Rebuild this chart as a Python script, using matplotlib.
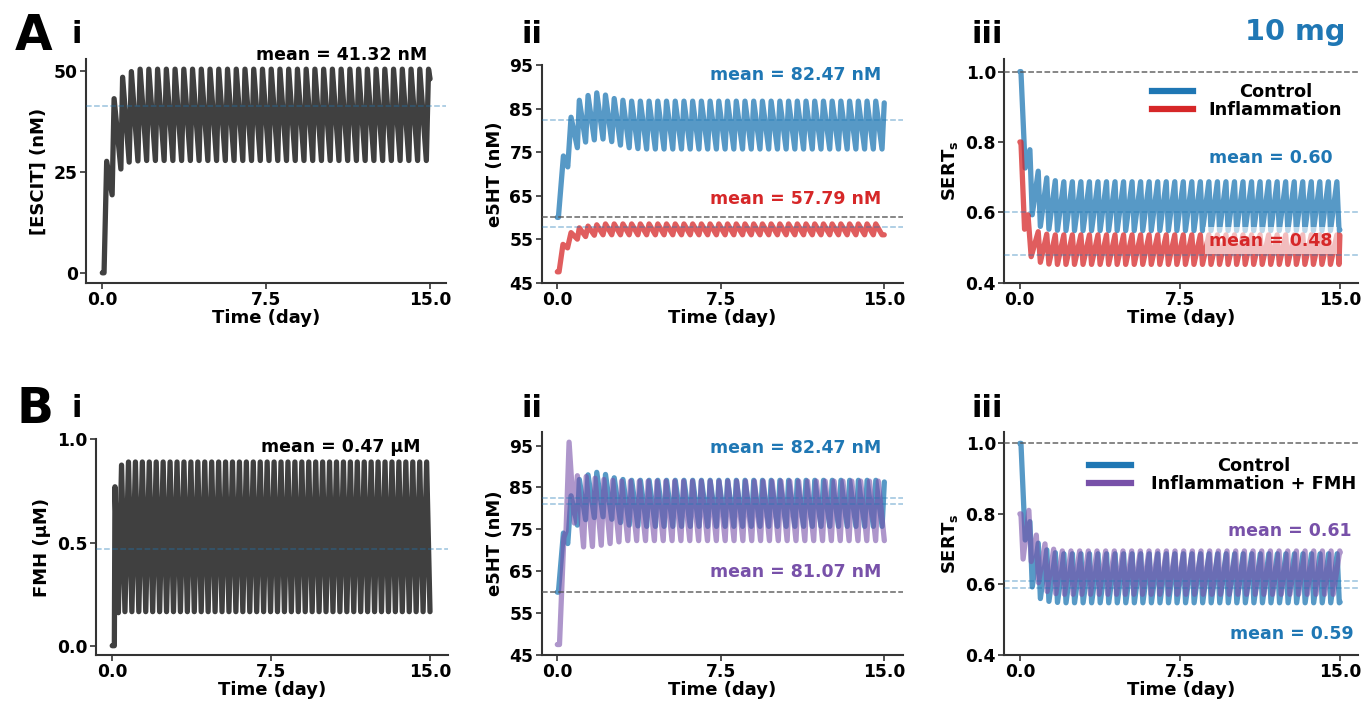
import numpy as np
import matplotlib
matplotlib.use("Agg")
import matplotlib.pyplot as plt
from matplotlib.lines import Line2D

plt.rcParams["font.family"] = ["DejaVu Sans"]
plt.rcParams["font.weight"] = "bold"
plt.rcParams["axes.labelweight"] = "bold"
plt.rcParams["mathtext.fontset"] = "dejavusans"

BLUE = "#1f77b4"
RED = "#d62728"
PURPLE = "#7851a9"
DARK = "black"

T_END = 15.0
X_TICKS = [0.0, 7.5, 15.0]

# ---------------- data ----------------
# Each trace: early transient points, then one peak and one trough per dosing cycle.

# A-i  [ESCIT] (nM)
ESCIT_PRE_T = [0.0, 0.08, 0.20, 0.45, 0.54, 0.85]
ESCIT_PRE_V = [0.0, 0.0, 27.6, 19.3, 43.1, 25.7]
ESCIT_T0, ESCIT_PERIOD = 0.93, 0.40
ESCIT_PEAKS = [48.4, 49.8, 50.4, 50.4, 50.4, 50.4, 50.4, 50.4, 50.4, 50.4,
               50.4, 50.4, 50.4, 50.4, 50.4, 50.4, 50.4, 50.4, 50.4, 50.4,
               50.4, 50.4, 50.4, 50.4, 50.4, 50.4, 50.4, 50.4, 50.4, 50.4,
               50.4, 50.4, 50.4, 50.4, 50.4, 50.4, 50.4, 50.4]
ESCIT_TROUGHS = [27.4, 27.7, 27.8, 27.8, 27.8, 27.8, 27.8, 27.8, 27.8, 27.8,
                 27.8, 27.8, 27.8, 27.8, 27.8, 27.8, 27.8, 27.8, 27.8, 27.8,
                 27.8, 27.8, 27.8, 27.8, 27.8, 27.8, 27.8, 27.8, 27.8, 27.8,
                 27.8, 27.8, 27.8, 27.8, 27.8, 27.8, 27.8, 27.8]
ESCIT_LAST = 48.0
ESCIT_MEAN = 41.32

# e5HT control (A-ii, B-ii blue)
E5HT_CTRL_PRE_T = [0.0, 0.05, 0.28, 0.48, 0.63, 0.92]
E5HT_CTRL_PRE_V = [60.0, 60.0, 74.1, 71.6, 83.0, 76.0]
E5HT_CTRL_T0, E5HT_CTRL_PERIOD = 1.01, 0.40
E5HT_CTRL_PEAKS = [86.9, 88.0, 88.6, 88.1, 87.3, 86.9, 86.7, 86.7, 86.7, 86.7,
                   86.7, 86.7, 86.7, 86.7, 86.7, 86.7, 86.7, 86.7, 86.7, 86.7,
                   86.7, 86.7, 86.7, 86.7, 86.7, 86.7, 86.7, 86.7, 86.7, 86.7,
                   86.7, 86.7, 86.7, 86.7, 86.7, 86.7, 86.7, 86.7]
E5HT_CTRL_TROUGHS = [77.3, 77.8, 78.0, 77.4, 76.6, 76.0, 75.8, 75.7, 75.7, 75.7,
                     75.7, 75.7, 75.7, 75.7, 75.7, 75.7, 75.7, 75.7, 75.7, 75.7,
                     75.7, 75.7, 75.7, 75.7, 75.7, 75.7, 75.7, 75.7, 75.7, 75.7,
                     75.7, 75.7, 75.7, 75.7, 75.7, 75.7, 75.7, 75.7]
E5HT_CTRL_LAST = 86.3
E5HT_CTRL_MEAN = 82.47

# e5HT inflammation (A-ii red)
E5HT_INFL_PRE_T = [0.0, 0.08, 0.26, 0.47, 0.63, 0.92]
E5HT_INFL_PRE_V = [47.5, 47.5, 53.8, 53.0, 56.5, 55.0]
E5HT_INFL_T0, E5HT_INFL_PERIOD = 1.01, 0.40
E5HT_INFL_PEAKS = [57.6, 58.0, 58.3, 58.5, 58.5, 58.5, 58.5, 58.5, 58.5, 58.5,
                   58.5, 58.5, 58.5, 58.5, 58.5, 58.5, 58.5, 58.5, 58.5, 58.5,
                   58.5, 58.5, 58.5, 58.5, 58.5, 58.5, 58.5, 58.5, 58.5, 58.5,
                   58.5, 58.5, 58.5, 58.5, 58.5, 58.5, 58.5, 58.5]
E5HT_INFL_TROUGHS = [55.6, 55.9, 56.0, 56.0, 56.0, 56.0, 56.0, 56.0, 56.0, 56.0,
                     56.0, 56.0, 56.0, 56.0, 56.0, 56.0, 56.0, 56.0, 56.0, 56.0,
                     56.0, 56.0, 56.0, 56.0, 56.0, 56.0, 56.0, 56.0, 56.0, 56.0,
                     56.0, 56.0, 56.0, 56.0, 56.0, 56.0, 56.0, 56.0]
E5HT_INFL_LAST = 56.0
E5HT_INFL_MEAN = 57.79
E5HT_BASELINE = 60.0

# SERTs control (A-iii, B-iii blue)
SERT_CTRL_PRE_T = [0.0, 0.05, 0.25, 0.47, 0.58]
SERT_CTRL_PRE_V = [1.0, 1.0, 0.726, 0.778, 0.593]
SERT_CTRL_T0, SERT_CTRL_PERIOD = 0.86, 0.40
SERT_CTRL_PEAKS = [0.717, 0.698, 0.690, 0.687, 0.687, 0.687, 0.687, 0.687, 0.687, 0.687,
                   0.687, 0.687, 0.687, 0.687, 0.687, 0.687, 0.687, 0.687, 0.687, 0.687,
                   0.687, 0.687, 0.687, 0.687, 0.687, 0.687, 0.687, 0.687, 0.687, 0.687,
                   0.687, 0.687, 0.687, 0.687, 0.687, 0.687, 0.687, 0.687]
SERT_CTRL_TROUGHS = [0.560, 0.552, 0.549, 0.548, 0.548, 0.548, 0.548, 0.548, 0.548, 0.548,
                     0.548, 0.548, 0.548, 0.548, 0.548, 0.548, 0.548, 0.548, 0.548, 0.548,
                     0.548, 0.548, 0.548, 0.548, 0.548, 0.548, 0.548, 0.548, 0.548, 0.548,
                     0.548, 0.548, 0.548, 0.548, 0.548, 0.548, 0.548, 0.548]
SERT_CTRL_LAST = 0.55
SERT_CTRL_MEAN_A = 0.60
SERT_CTRL_MEAN_B = 0.59
SERT_BASELINE = 1.0

# SERTs inflammation (A-iii red)
SERT_INFL_PRE_T = [0.0, 0.05, 0.22, 0.38, 0.53]
SERT_INFL_PRE_V = [0.80, 0.80, 0.552, 0.593, 0.474]
SERT_INFL_T0, SERT_INFL_PERIOD = 0.86, 0.40
SERT_INFL_PEAKS = [0.545, 0.538, 0.536, 0.536, 0.536, 0.536, 0.536, 0.536, 0.536, 0.536,
                   0.536, 0.536, 0.536, 0.536, 0.536, 0.536, 0.536, 0.536, 0.536, 0.536,
                   0.536, 0.536, 0.536, 0.536, 0.536, 0.536, 0.536, 0.536, 0.536, 0.536,
                   0.536, 0.536, 0.536, 0.536, 0.536, 0.536, 0.536, 0.536]
SERT_INFL_TROUGHS = [0.458, 0.453, 0.452, 0.452, 0.452, 0.452, 0.452, 0.452, 0.452, 0.452,
                     0.452, 0.452, 0.452, 0.452, 0.452, 0.452, 0.452, 0.452, 0.452, 0.452,
                     0.452, 0.452, 0.452, 0.452, 0.452, 0.452, 0.452, 0.452, 0.452, 0.452,
                     0.452, 0.452, 0.452, 0.452, 0.452, 0.452, 0.452, 0.452]
SERT_INFL_LAST = 0.535
SERT_INFL_MEAN = 0.48

# B-i  FMH (uM)
FMH_PRE_T = [0.0, 0.10, 0.13, 0.29]
FMH_PRE_V = [0.0, 0.0, 0.77, 0.16]
FMH_T0, FMH_PERIOD = 0.44, 0.3273
FMH_PEAKS = [0.875, 0.89, 0.89, 0.89, 0.89, 0.89, 0.89, 0.89, 0.89, 0.89,
             0.89, 0.89, 0.89, 0.89, 0.89, 0.89, 0.89, 0.89, 0.89, 0.89,
             0.89, 0.89, 0.89, 0.89, 0.89, 0.89, 0.89, 0.89, 0.89, 0.89,
             0.89, 0.89, 0.89, 0.89, 0.89, 0.89, 0.89, 0.89, 0.89, 0.89,
             0.89, 0.89, 0.89, 0.89, 0.89, 0.89, 0.89]
FMH_TROUGHS = [0.165, 0.165, 0.165, 0.165, 0.165, 0.165, 0.165, 0.165, 0.165, 0.165,
               0.165, 0.165, 0.165, 0.165, 0.165, 0.165, 0.165, 0.165, 0.165, 0.165,
               0.165, 0.165, 0.165, 0.165, 0.165, 0.165, 0.165, 0.165, 0.165, 0.165,
               0.165, 0.165, 0.165, 0.165, 0.165, 0.165, 0.165, 0.165, 0.165, 0.165,
               0.165, 0.165, 0.165, 0.165, 0.165, 0.165, 0.165]
FMH_LAST = 0.165
FMH_MEAN = 0.47

# e5HT inflammation + FMH (B-ii purple)
E5HT_FMH_PRE_T = [0.0, 0.10, 0.30, 0.40, 0.54, 0.78]
E5HT_FMH_PRE_V = [47.5, 47.5, 73.0, 74.5, 95.8, 76.5]
E5HT_FMH_T0, E5HT_FMH_PERIOD = 0.92, 0.406
E5HT_FMH_PEAKS = [87.8, 87.6, 87.2, 86.9, 86.7, 86.5, 86.5, 86.5, 86.5, 86.5,
                  86.5, 86.5, 86.5, 86.5, 86.5, 86.5, 86.5, 86.5, 86.5, 86.5,
                  86.5, 86.5, 86.5, 86.5, 86.5, 86.5, 86.5, 86.5, 86.5, 86.5,
                  86.5, 86.5, 86.5, 86.5, 86.5, 86.5, 86.5, 86.5]
E5HT_FMH_TROUGHS = [70.8, 70.9, 71.2, 71.6, 72.0, 72.3, 72.3, 72.3, 72.3, 72.3,
                    72.3, 72.3, 72.3, 72.3, 72.3, 72.3, 72.3, 72.3, 72.3, 72.3,
                    72.3, 72.3, 72.3, 72.3, 72.3, 72.3, 72.3, 72.3, 72.3, 72.3,
                    72.3, 72.3, 72.3, 72.3, 72.3, 72.3, 72.3, 72.3]
E5HT_FMH_LAST = 72.3
E5HT_FMH_MEAN = 81.07

# SERTs inflammation + FMH (B-iii purple)
SERT_FMH_PRE_T = [0.0, 0.05, 0.15, 0.42, 0.53]
SERT_FMH_PRE_V = [0.80, 0.80, 0.672, 0.81, 0.665]
SERT_FMH_T0, SERT_FMH_PERIOD = 0.77, 0.406
SERT_FMH_PEAKS = [0.740, 0.715, 0.700, 0.695, 0.695, 0.695, 0.695, 0.695, 0.695, 0.695,
                  0.695, 0.695, 0.695, 0.695, 0.695, 0.695, 0.695, 0.695, 0.695, 0.695,
                  0.695, 0.695, 0.695, 0.695, 0.695, 0.695, 0.695, 0.695, 0.695, 0.695,
                  0.695, 0.695, 0.695, 0.695, 0.695, 0.695, 0.695, 0.695]
SERT_FMH_TROUGHS = [0.605, 0.580, 0.574, 0.572, 0.572, 0.572, 0.572, 0.572, 0.572, 0.572,
                    0.572, 0.572, 0.572, 0.572, 0.572, 0.572, 0.572, 0.572, 0.572, 0.572,
                    0.572, 0.572, 0.572, 0.572, 0.572, 0.572, 0.572, 0.572, 0.572, 0.572,
                    0.572, 0.572, 0.572, 0.572, 0.572, 0.572, 0.572, 0.572]
SERT_FMH_LAST = 0.69
SERT_FMH_MEAN = 0.61


def wave(pre_t, pre_v, t0, period, peaks, troughs, frac, last_v, t_end=T_END):
    """Polyline through the read extrema: early points, then peak/trough per cycle."""
    t = list(pre_t)
    v = list(pre_v)
    for k, (hi, lo) in enumerate(zip(peaks, troughs)):
        th = t0 + k * period
        t += [th, th + frac * period]
        v += [hi, lo]
    t = np.asarray(t)
    v = np.asarray(v)
    keep = t < t_end - 1e-6
    return np.r_[t[keep], t_end], np.r_[v[keep], last_v]


escit = wave(ESCIT_PRE_T, ESCIT_PRE_V, ESCIT_T0, ESCIT_PERIOD, ESCIT_PEAKS, ESCIT_TROUGHS, 0.75, ESCIT_LAST)
e5_ctrl = wave(E5HT_CTRL_PRE_T, E5HT_CTRL_PRE_V, E5HT_CTRL_T0, E5HT_CTRL_PERIOD, E5HT_CTRL_PEAKS, E5HT_CTRL_TROUGHS, 0.72, E5HT_CTRL_LAST)
e5_infl = wave(E5HT_INFL_PRE_T, E5HT_INFL_PRE_V, E5HT_INFL_T0, E5HT_INFL_PERIOD, E5HT_INFL_PEAKS, E5HT_INFL_TROUGHS, 0.72, E5HT_INFL_LAST)
sert_ctrl = wave(SERT_CTRL_PRE_T, SERT_CTRL_PRE_V, SERT_CTRL_T0, SERT_CTRL_PERIOD, SERT_CTRL_PEAKS, SERT_CTRL_TROUGHS, 0.25, SERT_CTRL_LAST)
sert_infl = wave(SERT_INFL_PRE_T, SERT_INFL_PRE_V, SERT_INFL_T0, SERT_INFL_PERIOD, SERT_INFL_PEAKS, SERT_INFL_TROUGHS, 0.25, SERT_INFL_LAST)
fmh = wave(FMH_PRE_T, FMH_PRE_V, FMH_T0, FMH_PERIOD, FMH_PEAKS, FMH_TROUGHS, 0.49, FMH_LAST)
e5_fmh = wave(E5HT_FMH_PRE_T, E5HT_FMH_PRE_V, E5HT_FMH_T0, E5HT_FMH_PERIOD, E5HT_FMH_PEAKS, E5HT_FMH_TROUGHS, 0.70, E5HT_FMH_LAST)
sert_fmh = wave(SERT_FMH_PRE_T, SERT_FMH_PRE_V, SERT_FMH_T0, SERT_FMH_PERIOD, SERT_FMH_PEAKS, SERT_FMH_TROUGHS, 0.25, SERT_FMH_LAST)

# ---------------- figure ----------------
W, H = 1367, 704
fig = plt.figure(figsize=(W / 100, H / 100), dpi=100)


def add_ax(x0, x1, ytop, ybot):
    return fig.add_axes([x0 / W, 1 - ybot / H, (x1 - x0) / W, (ybot - ytop) / H])


def style(ax, xlim, ylim, yticks, ylabel):
    for s in ("top", "right"):
        ax.spines[s].set_visible(False)
    for s in ("left", "bottom"):
        ax.spines[s].set_linewidth(1.5)
        ax.spines[s].set_color("#333333")
    ax.set_xlim(*xlim)
    if ylim is not None:
        ax.set_ylim(*ylim)
    ax.set_xticks(X_TICKS)
    ax.set_yticks(yticks)
    ax.tick_params(axis="both", labelsize=12.3, length=4, width=1.2, color="#333333", pad=2)
    for lab in ax.get_xticklabels() + ax.get_yticklabels():
        lab.set_fontweight("bold")
    ax.set_xlabel("Time (day)", fontsize=13, fontweight="bold", labelpad=0)
    ax.set_ylabel(ylabel, fontsize=13, fontweight="bold", labelpad=4)


def trace(ax, data, color, alpha):
    ax.plot(data[0], data[1], color=color, alpha=alpha, lw=3.8,
            solid_joinstyle="round", solid_capstyle="round", zorder=2)


def hline(ax, y, kind):
    if kind == "base":
        ax.axhline(y, color="#555555", ls="--", lw=1.1, alpha=0.9, zorder=3)
    else:
        ax.axhline(y, color=BLUE, ls="--", lw=1.1, alpha=0.45, zorder=3)


def mean_text(ax, x, y, s, color, box=False):
    kw = {}
    if box:
        kw["bbox"] = dict(facecolor="white", alpha=0.6, edgecolor="none", boxstyle="square,pad=0.25")
    ax.text(x, y, s, transform=ax.transAxes, ha="right", va="baseline", color=color,
            fontsize=12.5, fontweight="bold", zorder=5, **kw)


legends = []


def legend(ax, colors, labels, anchor, textpad):
    handles = [Line2D([], [], color=c, lw=4.5) for c in colors]
    leg = ax.legend(handles, labels, loc="upper right", bbox_to_anchor=anchor, frameon=False,
                    prop={"weight": "bold", "size": 12.8}, handlelength=2.36,
                    handletextpad=textpad, labelspacing=0.0, borderaxespad=0.0, borderpad=0.0)
    legends.append(leg)


# A-i
ax = add_ax(86, 446, 59, 283)
trace(ax, escit, DARK, 0.75)
hline(ax, ESCIT_MEAN, "mean")
style(ax, (-0.746, 15.73), None, [0, 25, 50], "[ESCIT] (nM)")
mean_text(ax, 0.947, 0.996, f"mean = {ESCIT_MEAN:.2f} nM", "black")

# A-ii
ax = add_ax(541.7, 903, 65, 282.7)
trace(ax, e5_ctrl, BLUE, 0.75)
trace(ax, e5_infl, RED, 0.75)
hline(ax, E5HT_BASELINE, "base")
hline(ax, E5HT_CTRL_MEAN, "mean")
hline(ax, E5HT_INFL_MEAN, "mean")
style(ax, (-0.716, 15.86), (45, 95), [45, 55, 65, 75, 85, 95], "e5HT (nM)")
mean_text(ax, 0.94, 0.931, f"mean = {E5HT_CTRL_MEAN:.2f} nM", BLUE)
mean_text(ax, 0.94, 0.361, f"mean = {E5HT_INFL_MEAN:.2f} nM", RED)

# A-iii
ax = add_ax(1004.3, 1358, 59.3, 282.7)
trace(ax, sert_ctrl, BLUE, 0.75)
trace(ax, sert_infl, RED, 0.75)
hline(ax, SERT_BASELINE, "base")
hline(ax, SERT_CTRL_MEAN_A, "mean")
hline(ax, SERT_INFL_MEAN, "mean")
style(ax, (-0.73, 15.85), (0.4, 1.035), [0.4, 0.6, 0.8, 1.0], r"SERT$_\mathbf{s}$")
mean_text(ax, 0.929, 0.537, f"mean = {SERT_CTRL_MEAN_A:.2f}", BLUE)
mean_text(ax, 0.929, 0.166, f"mean = {SERT_INFL_MEAN:.2f}", RED, box=True)
legend(ax, [BLUE, RED], ["Control", "Inflammation"], (0.955, 0.895), 0.85)

# B-i
ax = add_ax(95.7, 448, 439.3, 655)
trace(ax, fmh, DARK, 0.75)
hline(ax, FMH_MEAN, "mean")
style(ax, (-0.78, 15.85), (-0.045, 1.0), [0.0, 0.5, 1.0], "FMH (\u00b5M)")
mean_text(ax, 0.922, 0.943, f"mean = {FMH_MEAN:.2f} \u00b5M", "black")

# B-ii
ax = add_ax(541.7, 903.3, 431.7, 655)
trace(ax, e5_ctrl, BLUE, 0.75)
trace(ax, e5_fmh, PURPLE, 0.6)
hline(ax, E5HT_BASELINE, "base")
hline(ax, E5HT_CTRL_MEAN, "mean")
hline(ax, E5HT_FMH_MEAN, "mean")
style(ax, (-0.716, 15.87), (45, 98.3), [45, 55, 65, 75, 85, 95], "e5HT (nM)")
mean_text(ax, 0.94, 0.903, f"mean = {E5HT_CTRL_MEAN:.2f} nM", BLUE)
mean_text(ax, 0.94, 0.35, f"mean = {E5HT_FMH_MEAN:.2f} nM", PURPLE)

# B-iii
ax = add_ax(1004.3, 1358.3, 431.7, 655)
trace(ax, sert_ctrl, BLUE, 0.75)
trace(ax, sert_fmh, PURPLE, 0.6)
hline(ax, SERT_BASELINE, "base")
hline(ax, SERT_FMH_MEAN, "mean")
hline(ax, SERT_CTRL_MEAN_B, "mean")
style(ax, (-0.73, 15.85), (0.4, 1.033), [0.4, 0.6, 0.8, 1.0], r"SERT$_\mathbf{s}$")
mean_text(ax, 0.981, 0.534, f"mean = {SERT_FMH_MEAN:.2f}", PURPLE)
mean_text(ax, 0.986, 0.07, f"mean = {SERT_CTRL_MEAN_B:.2f}", BLUE)
legend(ax, [BLUE, PURPLE], ["Control", "Inflammation + FMH"], (0.995, 0.885), 1.12)

# panel labels
fig.text(15 / W, 1 - 50 / H, "A", fontsize=35, fontweight="bold", va="baseline")
fig.text(16.7 / W, 1 - 423 / H, "B", fontsize=35, fontweight="bold", va="baseline")
for x, s in ((72, "i"), (521.7, "ii"), (971.7, "iii")):
    fig.text(x / W, 1 - 43 / H, s, fontsize=22, fontweight="bold", va="baseline")
    fig.text(x / W, 1 - 416.7 / H, s, fontsize=22, fontweight="bold", va="baseline")
fig.text(1345.7 / W, 1 - 40 / H, "10 mg", fontsize=20.7, fontweight="bold", color=BLUE,
         ha="right", va="baseline")

# centre the legend labels within their column, as in the reference
fig.canvas.draw()
renderer = fig.canvas.get_renderer()
for leg in legends:
    texts = leg.get_texts()
    widths = [t.get_window_extent(renderer).width for t in texts]
    wmax = max(widths)
    for t, w in zip(texts, widths):
        t.set_position(((wmax - w) / 2, 0))

fig.savefig("out.png", dpi=100)
